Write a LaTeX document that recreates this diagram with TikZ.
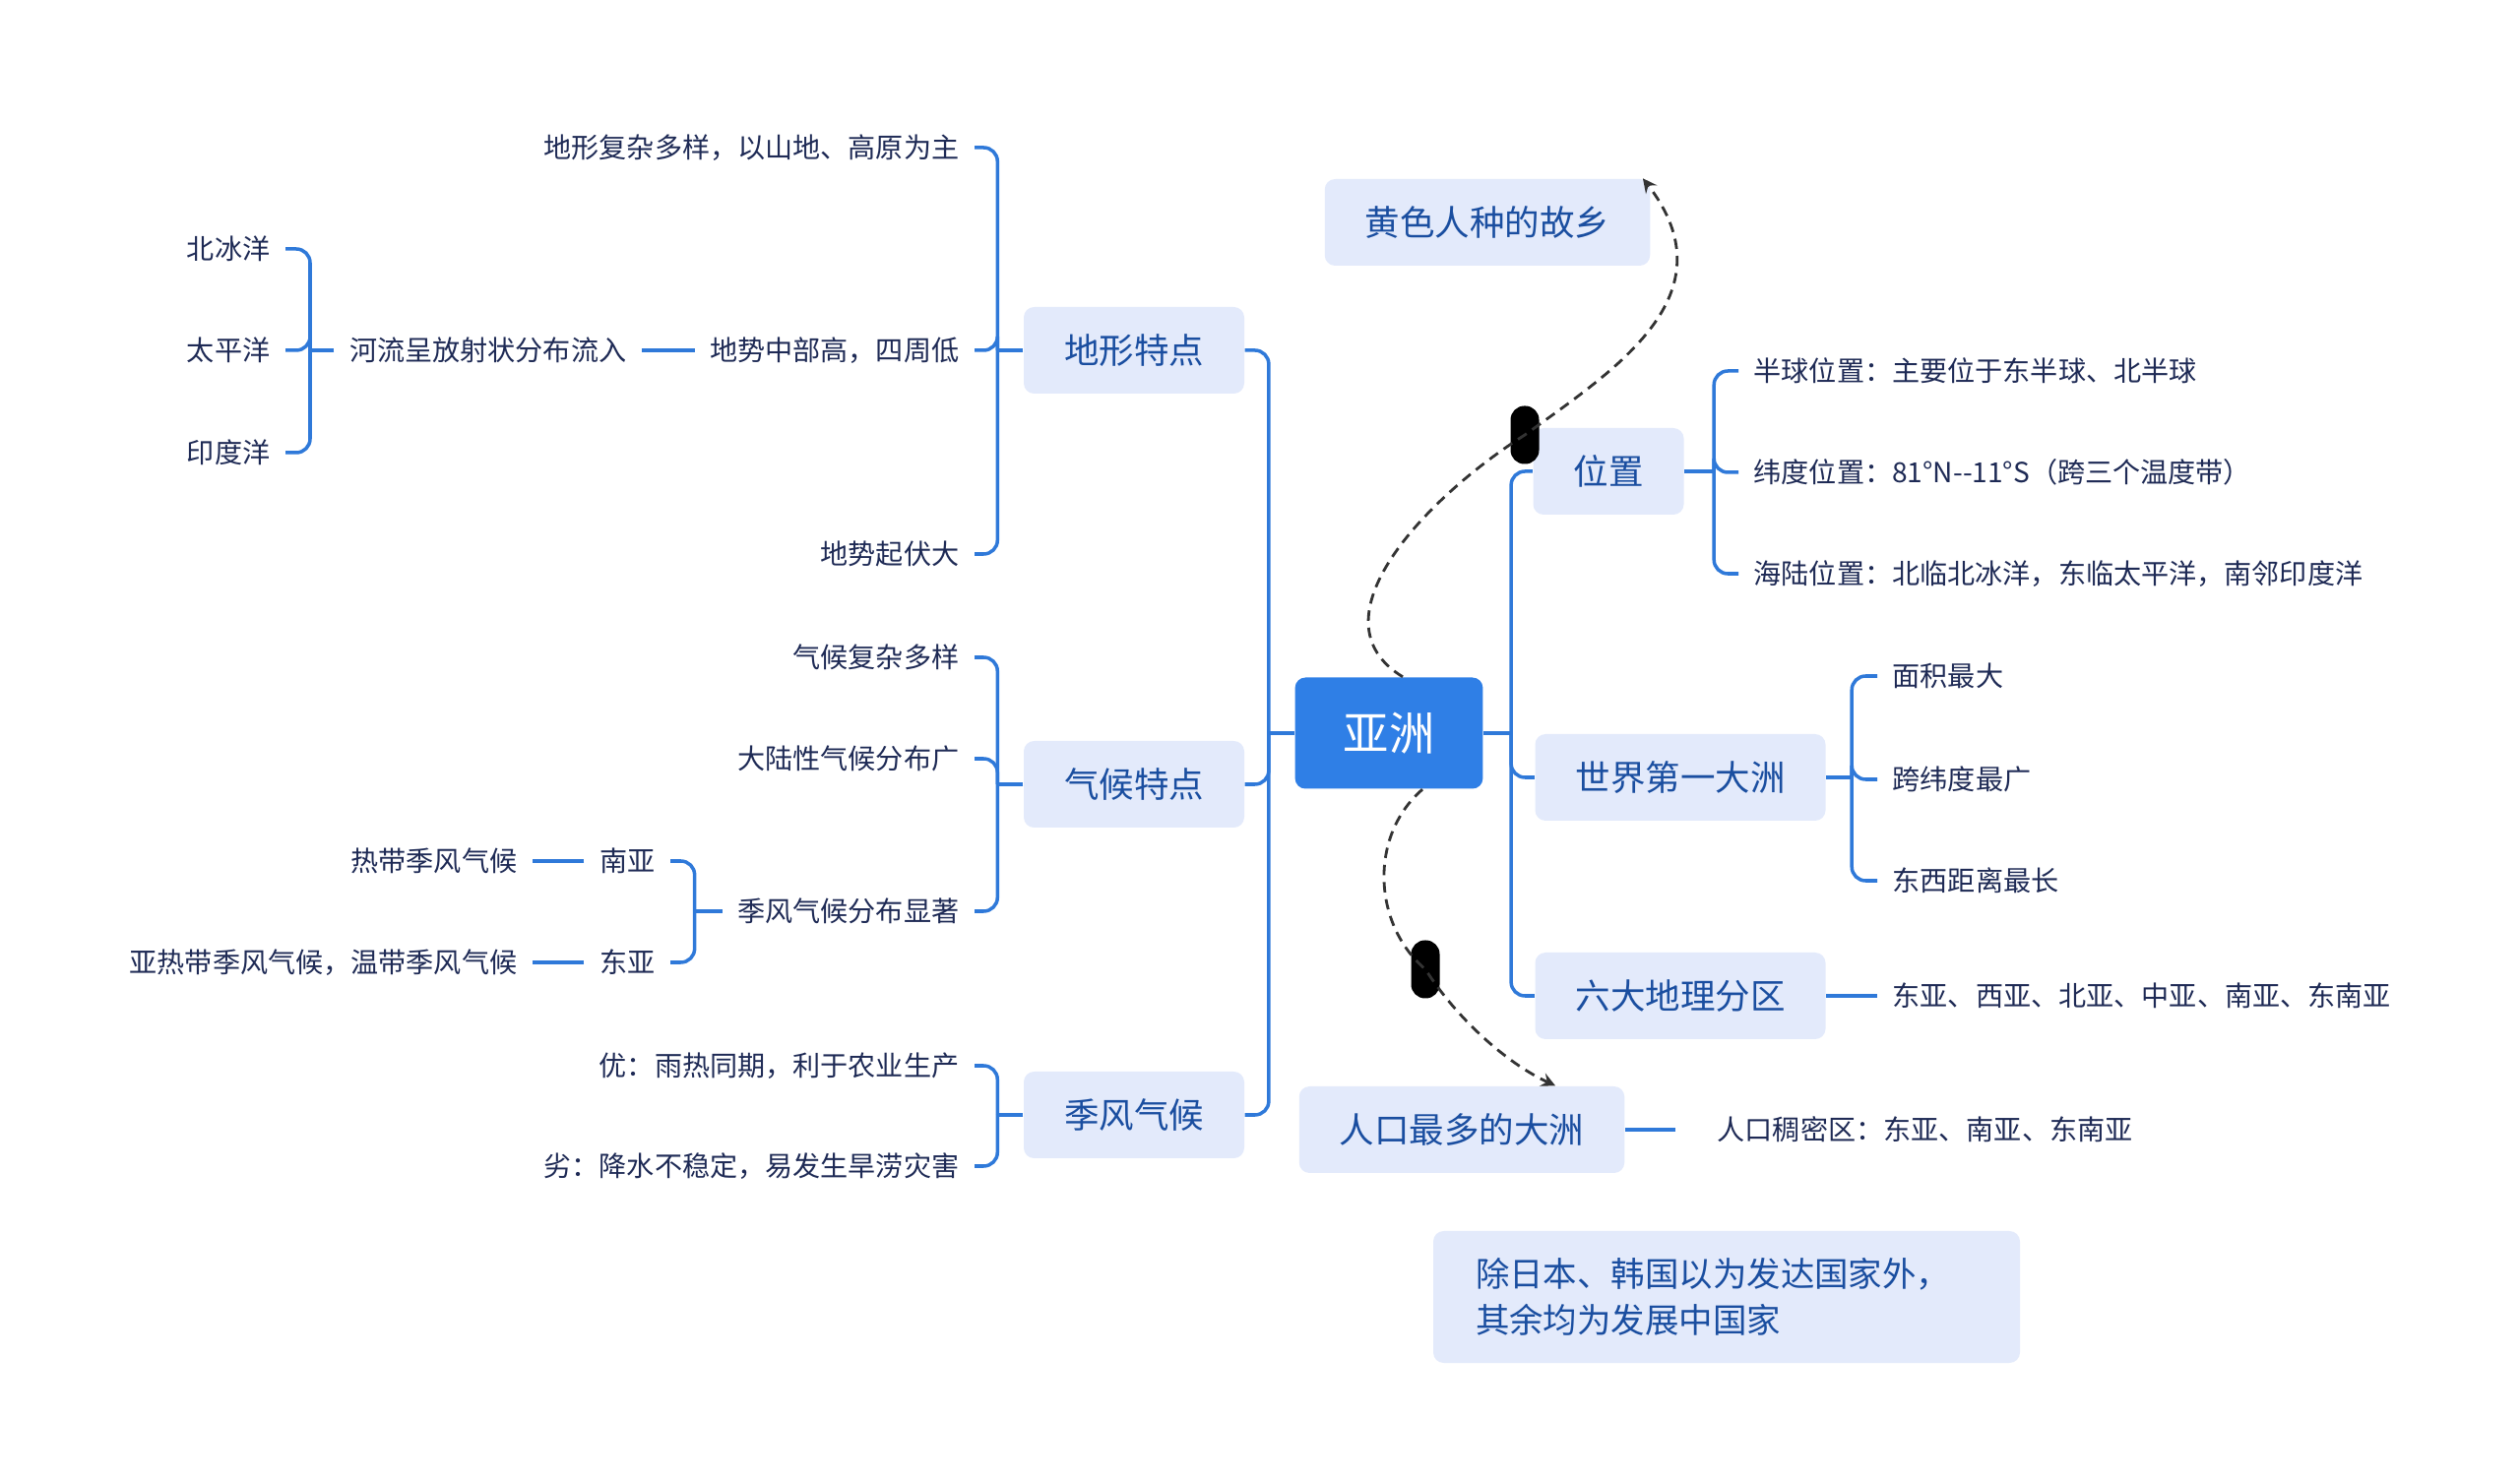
\documentclass[tikz,border=0pt]{standalone}
\usepackage{fontspec}
\setmainfont{Noto Sans CJK SC}
\usetikzlibrary{arrows,positioning}
\definecolor{linecol}{HTML}{2F79D9}
\definecolor{rootfill}{HTML}{2F7FE6}
\definecolor{boxfill}{HTML}{E3EAFB}
\definecolor{boxtext}{HTML}{1A4EA0}
\definecolor{leaftext}{HTML}{1E2A55}
\definecolor{linkcol}{HTML}{333333}

\begin{document}
\begin{tikzpicture}[font=\fontsize{8}{10}\selectfont,
  topic/.style={fill=boxfill,text=boxtext,rounded corners=3pt,inner xsep=0.41cm,minimum height=0.88cm,font=\fontsize{10.1}{12}\selectfont},
  leaf/.style={text=leaftext,inner xsep=0.15cm},
  br/.style={draw=linecol,line width=1pt,rounded corners=4pt},
  pill/.style={fill=black,rounded corners=4pt,minimum width=0.29cm,minimum height=0.59cm,inner sep=0pt},
  link/.style={draw=linkcol,line width=0.8pt,dash pattern=on 3pt off 2pt,->,>=stealth}]
  \useasboundingbox (0,0) rectangle (25.6,-15.05);
  % centre
  \node[fill=rootfill,text=white,rounded corners=3pt,inner xsep=0.49cm,minimum height=1.13cm,font=\fontsize{13.2}{15}\selectfont] (asia) at (14.11,-7.45) {亚洲};

  % left topics
  \node[topic] (terrain) at (11.52,-3.56) {地形特点};
  \node[topic] (climate) at (11.52,-7.97) {气候特点};
  \node[topic] (monsoon) at (11.52,-11.33) {季风气候};
  \coordinate (lj) at ([xshift=-0.26cm]asia.west);
  \draw[br] (asia.west) -- (lj);
  \foreach \c in {terrain,climate,monsoon}
    \draw[br] (lj) |- (\c.east);

  % terrain
  \foreach \t/\y [count=\i] in {{地形复杂多样，以山地、高原为主}/-1.50,{地势中部高，四周低}/-3.56,地势起伏大/-5.63}
    \node[leaf,anchor=east] (ter\i) at (9.90,\y) {\t};
  \coordinate (tj) at ([xshift=-0.26cm]terrain.west);
  \draw[br] (terrain.west) -- (tj);
  \foreach \i in {1,2,3}
    \draw[br] (tj) |- (ter\i.east);
  \node[leaf,anchor=east] (river) at (6.52,-3.56) {河流呈放射状分布流入};
  \draw[br] (ter2.west) -- (river.east);
  \foreach \t/\y [count=\i] in {北冰洋/-2.53,太平洋/-3.56,印度洋/-4.60}
    \node[leaf,anchor=east] (ocean\i) at (2.90,\y) {\t};
  \coordinate (oj) at (3.15,-3.56);
  \draw[br] (river.west) -- (oj);
  \foreach \i in {1,2,3}
    \draw[br] (oj) |- (ocean\i.east);

  % climate
  \foreach \t/\y [count=\i] in {气候复杂多样/-6.68,大陆性气候分布广/-7.71,季风气候分布显著/-9.26}
    \node[leaf,anchor=east] (cli\i) at (9.90,\y) {\t};
  \coordinate (cj) at ([xshift=-0.26cm]climate.west);
  \draw[br] (climate.west) -- (cj);
  \foreach \i in {1,2,3}
    \draw[br] (cj) |- (cli\i.east);
  \node[leaf,anchor=east] (south) at (6.81,-8.75) {南亚};
  \node[leaf,anchor=east] (east) at (6.81,-9.78) {东亚};
  \coordinate (sj) at ([xshift=-0.28cm]cli3.west);
  \draw[br] (cli3.west) -- (sj);
  \foreach \c in {south,east}
    \draw[br] (sj) |- (\c.east);
  \node[leaf,anchor=east] (tropic) at (5.41,-8.75) {热带季风气候};
  \node[leaf,anchor=east] (subtropic) at (5.41,-9.78) {亚热带季风气候，温带季风气候};
  \draw[br] (south.west) -- (tropic.east);
  \draw[br] (east.west) -- (subtropic.east);

  % monsoon
  \foreach \t/\y [count=\i] in {{优：雨热同期，利于农业生产}/-10.83,{劣：降水不稳定，易发生旱涝灾害}/-11.85}
    \node[leaf,anchor=east] (mon\i) at (9.90,\y) {\t};
  \coordinate (mj) at ([xshift=-0.26cm]monsoon.west);
  \draw[br] (monsoon.west) -- (mj);
  \foreach \i in {1,2}
    \draw[br] (mj) |- (mon\i.east);

  % right topics
  \node[topic] (loc) at (16.34,-4.79) {位置};
  \node[topic] (largest) at (17.07,-7.90) {世界第一大洲};
  \node[topic] (regions) at (17.07,-10.12) {六大地理分区};
  \coordinate (rj) at ([xshift=0.28cm]asia.east);
  \draw[br] (asia.east) -- (rj);
  \foreach \c in {loc,largest,regions}
    \draw[br] (rj) |- (\c.west);

  % position
  \foreach \t/\y [count=\i] in {{半球位置：主要位于东半球、北半球}/-3.77,{纬度位置：81°N-{}-11°S（跨三个温度带）}/-4.80,{海陆位置：北临北冰洋，东临太平洋，南邻印度洋}/-5.83}
    \node[leaf,anchor=west] (loc\i) at (17.66,\y) {\t};
  \coordinate (pj) at ([xshift=0.30cm]loc.east);
  \draw[br] (loc.east) -- (pj);
  \foreach \i in {1,2,3}
    \draw[br] (pj) |- (loc\i.west);

  % largest
  \foreach \t/\y [count=\i] in {面积最大/-6.87,跨纬度最广/-7.92,东西距离最长/-8.95}
    \node[leaf,anchor=west] (big\i) at (19.07,\y) {\t};
  \coordinate (bj) at ([xshift=0.26cm]largest.east);
  \draw[br] (largest.east) -- (bj);
  \foreach \i in {1,2,3}
    \draw[br] (bj) |- (big\i.west);

  % regions
  \node[leaf,anchor=west] (six) at (19.07,-10.12) {东亚、西亚、北亚、中亚、南亚、东南亚};
  \draw[br] (regions.east) -- (six.west);

  % population
  \node[topic] (people) at (14.85,-11.48) {人口最多的大洲};
  \node[leaf,anchor=west,inner xsep=0.42cm] (dense) at (17.02,-11.48) {人口稠密区：东亚、南亚、东南亚};
  \draw[br] (people.east) -- (dense.west);
  \node[topic,align=left,text width=5.1cm,inner xsep=0.43cm,minimum height=1.34cm,font=\fontsize{9.8}{13.4}\selectfont] (note) at (17.54,-13.18)
    {除日本、韩国以为发达国家外，\\其余均为发展中国家};

  % yellow race
  \node[topic] (yellow) at (15.11,-2.26) {黄色人种的故乡};

  % dashed links
  \node[pill] (pa) at (15.49,-4.42) {};
  \node[pill] (pb) at (14.48,-9.85) {};
  \draw[link] ([xshift=0.14cm]asia.north) .. controls (13.3,-6.3) and (14.48,-5.06) .. (pa.center)
    .. controls (16.4,-3.76) and (17.6,-3.0) .. ([xshift=-0.08cm]yellow.north east);
  \draw[link] ([xshift=0.34cm]asia.south) .. controls (13.9,-8.5) and (13.95,-9.4) .. (pb.center)
    .. controls (14.8,-10.35) and (15.3,-10.8) .. ([xshift=0.95cm]people.north);
\end{tikzpicture}
\end{document}
